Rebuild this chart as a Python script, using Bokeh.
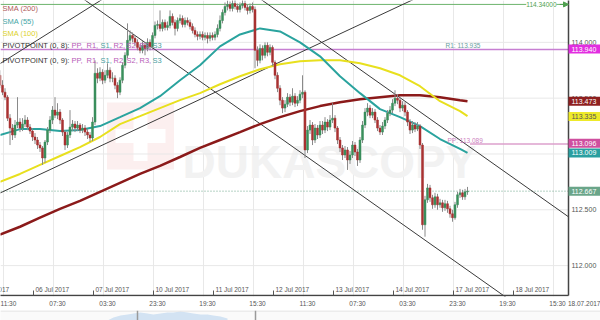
from bokeh.plotting import figure
from bokeh.models import Range1d, FixedTicker, Label, ColumnDataSource, Arrow, NormalHead
from bokeh.layouts import column
from bokeh.embed import file_html
from bokeh.resources import INLINE
from bokeh.core.properties import value

FONT = "Liberation Sans"

# ---------------- data (USD/JPY, hourly candles) ----------------
first_open = 113.705
closes = [113.616, 113.554, 113.509, 113.321, 113.232, 113.170, 113.259, 113.286, 113.232, 113.268,
          113.304, 113.241, 113.205, 113.152, 113.125, 113.080, 113.054, 112.964, 113.107, 113.214,
          113.304, 113.393, 113.348, 113.375, 113.304, 113.196, 113.080, 113.170, 113.241, 113.268,
          113.232, 113.259, 113.214, 113.232, 113.196, 113.170, 113.143, 113.286, 113.723, 113.679,
          113.732, 113.661, 113.705, 113.750, 113.679, 113.679, 113.616, 113.554, 113.661, 113.795,
          113.884, 114.018, 114.062, 114.036, 114.000, 113.955, 113.929, 113.973, 113.946, 114.000,
          113.964, 114.062, 114.152, 114.161, 114.125, 114.179, 114.134, 114.152, 114.232, 114.179,
          114.125, 114.196, 114.214, 114.161, 114.196, 114.179, 114.143, 114.107, 114.071, 114.054,
          114.071, 114.045, 114.062, 114.036, 114.062, 114.045, 114.071, 114.125, 114.196, 114.268,
          114.321, 114.339, 114.304, 114.348, 114.321, 114.295, 114.330, 114.348, 114.312, 114.286,
          114.321, 114.295, 113.929, 113.839, 113.946, 113.884, 113.973, 113.911, 113.955, 113.821,
          113.705, 113.589, 113.482, 113.411, 113.446, 113.509, 113.464, 113.518, 113.455, 113.482,
          113.536, 113.554, 113.036, 113.214, 113.259, 113.125, 113.232, 113.170, 113.259, 113.214,
          113.286, 113.241, 113.304, 113.321, 113.232, 113.125, 113.054, 112.991, 113.036, 112.946,
          112.991, 113.080, 113.018, 112.946, 113.125, 113.259, 113.375, 113.411, 113.348, 113.375,
          113.304, 113.232, 113.196, 113.250, 113.304, 113.366, 113.393, 113.455, 113.500, 113.482,
          113.411, 113.437, 113.375, 113.286, 113.214, 113.259, 113.223, 113.250, 113.080, 112.366,
          112.589, 112.696, 112.607, 112.545, 112.616, 112.545, 112.562, 112.518, 112.554, 112.509,
          112.464, 112.429, 112.545, 112.634, 112.652, 112.616, 112.661, 112.667]
highs = [113.750, 113.661, 113.589, 113.527, 113.357, 113.268, 113.304, 113.509, 113.321, 113.321,
         113.348, 113.330, 113.268, 113.232, 113.187, 113.152, 113.107, 113.071, 113.125, 113.241,
         113.339, 113.429, 113.509, 113.455, 113.402, 113.321, 113.214, 113.196, 113.393, 113.304,
         113.295, 113.295, 113.277, 113.268, 113.259, 113.223, 113.196, 113.330, 113.839, 113.768,
         113.777, 113.759, 113.750, 113.812, 113.777, 113.732, 113.705, 113.643, 113.687, 113.821,
         113.911, 114.170, 114.107, 114.089, 114.062, 114.027, 113.982, 114.009, 114.000, 114.036,
         114.027, 114.089, 114.187, 114.196, 114.286, 114.205, 114.205, 114.187, 114.286, 114.259,
         114.205, 114.223, 114.250, 114.241, 114.223, 114.223, 114.205, 114.170, 114.134, 114.098,
         114.098, 114.098, 114.089, 114.089, 114.089, 114.089, 114.098, 114.161, 114.241, 114.295,
         114.357, 114.375, 114.366, 114.384, 114.384, 114.348, 114.357, 114.393, 114.375, 114.339,
         114.348, 114.357, 114.321, 113.964, 113.982, 113.973, 114.000, 114.000, 113.982, 113.973,
         113.839, 113.732, 113.616, 113.509, 113.482, 113.545, 113.536, 113.589, 113.545, 113.518,
         113.571, 113.705, 113.571, 113.250, 113.304, 113.286, 113.268, 113.259, 113.295, 113.295,
         113.330, 113.312, 113.348, 113.455, 113.348, 113.250, 113.152, 113.080, 113.071, 113.062,
         113.027, 113.116, 113.107, 113.045, 113.152, 113.295, 113.411, 113.455, 113.437, 113.411,
         113.402, 113.330, 113.259, 113.286, 113.330, 113.393, 113.429, 113.491, 113.571, 113.536,
         113.509, 113.473, 113.464, 113.393, 113.312, 113.295, 113.286, 113.286, 113.268, 113.098,
         112.625, 112.732, 112.723, 112.634, 112.652, 112.643, 112.598, 112.589, 112.589, 112.580,
         112.536, 112.500, 112.571, 112.661, 112.687, 112.679, 112.687, 112.705]
lows = [113.589, 113.527, 113.482, 113.295, 113.080, 113.125, 113.143, 113.232, 113.196, 113.205,
        113.241, 113.214, 113.179, 113.116, 113.089, 113.045, 113.018, 112.902, 112.920, 113.080,
        113.187, 113.268, 113.321, 113.312, 113.268, 113.161, 113.036, 113.054, 113.143, 113.205,
        113.196, 113.205, 113.187, 113.187, 113.161, 113.134, 113.107, 113.116, 113.259, 113.634,
        113.652, 113.625, 113.634, 113.679, 113.643, 113.643, 113.580, 113.500, 113.527, 113.634,
        113.768, 113.857, 113.982, 114.000, 113.964, 113.929, 113.902, 113.902, 113.884, 113.920,
        113.929, 113.937, 114.036, 114.116, 114.098, 114.098, 114.107, 114.107, 114.125, 114.152,
        114.062, 114.098, 114.170, 114.134, 114.134, 114.152, 114.116, 114.080, 114.045, 114.018,
        114.027, 114.018, 114.018, 113.991, 114.009, 114.018, 114.018, 114.045, 114.098, 114.170,
        114.241, 114.286, 114.277, 114.277, 114.295, 114.268, 114.268, 114.304, 114.286, 114.250,
        114.259, 114.268, 113.768, 113.786, 113.812, 113.839, 113.857, 113.875, 113.884, 113.786,
        113.670, 113.554, 113.437, 113.366, 113.375, 113.420, 113.429, 113.437, 113.420, 113.429,
        113.455, 113.500, 112.964, 113.009, 113.179, 113.080, 113.098, 113.134, 113.143, 113.179,
        113.187, 113.205, 113.214, 113.277, 113.196, 113.089, 113.018, 112.946, 112.964, 112.857,
        112.911, 112.964, 112.982, 112.893, 112.920, 113.098, 113.232, 113.339, 113.321, 113.321,
        113.277, 113.205, 113.170, 113.170, 113.223, 113.277, 113.339, 113.366, 113.429, 113.446,
        113.375, 113.384, 113.339, 113.250, 113.179, 113.187, 113.196, 113.205, 113.045, 112.321,
        112.259, 112.562, 112.571, 112.509, 112.518, 112.500, 112.518, 112.482, 112.491, 112.473,
        112.429, 112.393, 112.411, 112.518, 112.607, 112.589, 112.589, 112.634]

# moving averages sampled at bar indices
sma_bars = [0, 8, 16, 24, 32, 40, 48, 56, 64, 72, 80, 88, 96, 104, 112, 120, 128, 136, 144, 152,
            160, 168, 176, 184, 187]
sma200 = [112.277, 112.348, 112.429, 112.509, 112.580, 112.661, 112.741, 112.821, 112.893, 112.973,
          113.054, 113.125, 113.196, 113.268, 113.330, 113.384, 113.429, 113.464, 113.491, 113.509,
          113.527, 113.527, 113.509, 113.482, 113.473]
sma100 = [112.750, 112.821, 112.902, 112.982, 113.062, 113.152, 113.268, 113.339, 113.411, 113.482,
          113.545, 113.625, 113.696, 113.759, 113.804, 113.830, 113.839, 113.839, 113.812, 113.768,
          113.705, 113.607, 113.473, 113.384, 113.339]
sma55 = [113.170, 113.223, 113.223, 113.205, 113.214, 113.250, 113.330, 113.411, 113.518, 113.661,
         113.795, 113.964, 114.071, 114.125, 114.098, 114.000, 113.875, 113.696, 113.545, 113.402,
         113.330, 113.250, 113.134, 113.045, 113.009]

# horizontal levels
level_price = 114.340
r1_price = 113.935
pp_price = 113.089
pp_from_bar = 188
last_price = 112.667

# trend lines: two anchor points each (bar index, price)
trend_lines = [((105.0, 114.375), (227.4, 112.437)),
               ((34.2, 114.375), (201.4, 111.732)),
               ((0.2, 112.652), (160.2, 114.330)),
               ((0.2, 113.812), (40.2, 114.375))]

# price boxes on the right scale
box_values = ["113.940", "113.473", "113.335", "113.096", "113.009", "112.667"]
box_colors = ["#e22ee0", "#8e1f1f", "#eeea2a", "#cf4f9f", "#2a9fa0", "#6aa589"]
box_text_colors = ["white", "white", "#555555", "white", "white", "white"]

# axes
price_ticks = [112.0, 112.5, 113.0, 113.5, 114.0]
price_labels = ["112.000", "112.500", "113.000", "113.500", "114.000"]
grid_bars = [1.4, 21.4, 41.4, 61.4, 81.4, 101.4, 121.4, 141.4, 161.4, 181.4, 201.4, 221.4]
time_bars = [3, 23, 43, 63, 83, 103, 123, 143, 163, 183, 203, 223]
time_labels = ["11:30", "07:30", "03:30", "23:30", "19:30", "15:30",
               "11:30", "07:30", "03:30", "23:30", "19:30", "15:30"]
date_bars = [-10.6, 13.4, 37.4, 61.4, 85.4, 109.4, 133.4, 157.4, 181.4, 205.4]
date_labels = ["05 Jul 2017", "06 Jul 2017", "07 Jul 2017", "10 Jul 2017", "11 Jul 2017",
               "12 Jul 2017", "13 Jul 2017", "14 Jul 2017", "17 Jul 2017", "18 Jul 2017"]
corner_bar = 234.0
corner_label = "18.07.2017"
watermark = "DUKASCOPY"

# navigator strip (overview series, top part only visible)
nav_t = [107, 113, 120, 127, 133, 140, 147, 153, 160, 167, 173, 180, 187, 193, 200, 207, 213, 220, 227]
nav_v = [1, 4, 6, 7, 8, 9, 8, 7, 8, 9, 9, 10, 9, 8, 7, 7, 6, 5, 3]
nav_handles = [137, 255]

# ---------------- scales ----------------
BAR_PX = 2.5          # pixels per hourly bar
PX_PER_PRICE = 112.0  # pixels per 1.00 JPY
X0 = 0.2
X_END = X0 + 600 / BAR_PX     # whole width is the frame
AXIS_X = X0 + 568 / BAR_PX    # price scale line
Y1 = 114.375
Y0 = Y1 - 297 / PX_PER_PRICE  # frame is 297 px tall
AXIS_Y = Y1 - 296 / PX_PER_PRICE


def bx(px):
    return X0 + px / BAR_PX


def py(px):
    return Y1 - px / PX_PER_PRICE


n = len(closes)
bars = list(range(n))
opens = [first_open] + closes[:-1]
src = ColumnDataSource(dict(
    x=bars, h=highs, l=lows,
    top=[max(o, c) for o, c in zip(opens, closes)],
    bot=[min(o, c) for o, c in zip(opens, closes)],
    col=["#3b8f5c" if c >= o else "#a83232" for o, c in zip(opens, closes)],
))

p = figure(width=600, height=309, x_range=Range1d(X0, X_END), y_range=Range1d(Y0, Y1),
           output_backend="svg", toolbar_location=None, y_axis_location=None,
           min_border_left=0, min_border_top=0, min_border_right=0, min_border_bottom=12)
p.outline_line_color = None
p.background_fill_color = "white"
p.border_fill_color = "white"

xa = p.xaxis[0]
xa.ticker = FixedTicker(ticks=time_bars + [corner_bar])
overrides = {t: s for t, s in zip(time_bars, time_labels)}
overrides[corner_bar] = corner_label
xa.major_label_overrides = overrides
xa.major_tick_in = 0
xa.major_tick_out = 0
xa.minor_tick_line_color = None
xa.axis_line_color = None
xa.major_label_text_font = FONT
xa.major_label_text_font_size = "6.5px"
xa.major_label_text_color = "#555555"
xa.major_label_standoff = 3

p.xgrid.ticker = FixedTicker(ticks=grid_bars)
p.xgrid.grid_line_color = "#e8e8e8"
p.ygrid.visible = False

# faint watermark (logo square with cross + name)
p.rect(x=[bx(140)], y=[py(136)], width=67, height=67, width_units="screen", height_units="screen",
       fill_color="#fcefef", line_color=None)
p.rect(x=[bx(140)], y=[py(136)], width=14, height=50, width_units="screen", height_units="screen",
       fill_color="white", line_color=None)
p.rect(x=[bx(140)], y=[py(136)], width=50, height=14, width_units="screen", height_units="screen",
       fill_color="white", line_color=None)
p.text(x=[bx(182)], y=[py(162)], text=[watermark], text_font=value(FONT), text_font_size="46px",
       text_font_style="bold", text_color="#f2f2f2", text_baseline="alphabetic")

# horizontal grid and price scale (drawn up to the scale line)
p.segment(x0=[X0] * len(price_ticks), y0=price_ticks, x1=[AXIS_X] * len(price_ticks),
          y1=price_ticks, line_color="#e8e8e8", line_width=1)
p.text(x=[AXIS_X] * len(price_ticks), y=price_ticks, text=price_labels, x_offset=3,
       text_baseline="middle", text_font=value(FONT), text_font_size="7px",
       text_color="#555555")

# horizontal levels
p.line([X0, AXIS_X], [level_price, level_price], line_color="#6cb46c", line_width=1)
p.line([X0, AXIS_X], [r1_price, r1_price], line_color="#c77fd2", line_width=1.5)
p.line([X0, AXIS_X], [last_price, last_price], line_color="#6aa589", line_width=1, line_dash="1 2")
p.line([pp_from_bar, AXIS_X], [pp_price, pp_price], line_color="#dca0cc", line_width=1.5)

# trend lines (clipped at the price scale)
for (xa0, ya0), (xa1, ya1) in trend_lines:
    g = (ya1 - ya0) / (xa1 - xa0)
    b = ya0 - g * xa0
    xs = [X0 - 40, AXIS_X]
    p.line(xs, [g * x + b for x in xs], line_color="#3a3a3a", line_width=1)

# moving averages
p.line(sma_bars, sma200, line_color="#8b1a1a", line_width=2.5)
p.line(sma_bars, sma100, line_color="#e8e01e", line_width=2)
p.line(sma_bars, sma55, line_color="#2aa39e", line_width=2)

# candles
p.segment(x0="x", y0="l", x1="x", y1="h", source=src, line_color="#8a8a8a", line_width=1)
p.vbar(x="x", top="top", bottom="bot", width=0.8, source=src, fill_color="col",
       line_color="col", line_width=0.5)

# axis lines
p.line([AXIS_X, AXIS_X], [AXIS_Y, Y1 + 1], line_color="#444444", line_width=1.5)
p.line([X0 - 1, AXIS_X], [AXIS_Y, AXIS_Y], line_color="#444444", line_width=1.5)

# level texts
p.add_layout(Label(x=AXIS_X, y=level_price, x_offset=-12, text="114.34000", text_align="right",
                   text_baseline="middle", text_font=FONT, text_font_size="6.5px",
                   text_color="#4f9f4f", background_fill_color="white"))
p.add_layout(Arrow(end=NormalHead(size=5, fill_color="#4f9f4f", line_color="#4f9f4f"),
                   x_start=AXIS_X - 3.5, y_start=level_price, x_end=AXIS_X, y_end=level_price,
                   line_color="#4f9f4f", line_width=1))
p.add_layout(Label(x=AXIS_X, y=r1_price, x_offset=-123, y_offset=1, text="R1: " + f"{r1_price:.3f}",
                   text_align="left", text_baseline="bottom", text_font=FONT,
                   text_font_size="6.5px", text_color="#6aa0a0"))
p.add_layout(Label(x=AXIS_X, y=pp_price, x_offset=-121, y_offset=0, text="PP: " + f"{pp_price:.3f}",
                   text_align="left", text_baseline="bottom", text_font=FONT,
                   text_font_size="6.5px", text_color="#cc7fc0"))

# price boxes over the right scale
box_src = ColumnDataSource(dict(y=[float(v) for v in box_values], text=box_values,
                                fill=box_colors, tc=box_text_colors))
p.rect(x=bx(584), y="y", width=32, height=9, width_units="screen", height_units="screen",
       fill_color="fill", line_color=None, source=box_src)
p.text(x=AXIS_X, y="y", text="text", x_offset=3, text_baseline="middle", text_color="tc",
       text_font=value(FONT), text_font_size="7px", source=box_src)

# legend
legend_rows = [("SMA (200)", "#b05a5a", 8), ("SMA (55)", "#45a6a6", 21), ("SMA (100)", "#ddd22a", 33)]
for t, c, dy in legend_rows:
    p.add_layout(Label(x=X0, y=Y1, x_offset=2, y_offset=-dy, text=t, text_color=c,
                       text_baseline="middle", text_font=FONT, text_font_size="7.5px"))
pivot_parts = [("PP,", "#b75bb7", 71), ("R1,", "#b75bb7", 86), ("S1,", "#4aa0a0", 100),
               ("R2,", "#b75bb7", 113), ("S2,", "#b75bb7", 126), ("R3,", "#b75bb7", 139),
               ("S3", "#4aa0a0", 152)]
for k, dy in ((8, 45), (9, 60)):
    p.add_layout(Label(x=X0, y=Y1, x_offset=2, y_offset=-dy, text=f"PIVOTPOINT (0, {k}):",
                       text_color="#333333", text_baseline="middle", text_font=FONT,
                       text_font_size="7.5px"))
    for t, c, dx in pivot_parts:
        p.add_layout(Label(x=X0, y=Y1, x_offset=dx, y_offset=-dy, text=t, text_color=c,
                           text_baseline="middle", text_font=FONT, text_font_size="7.5px"))

# date row above the time axis
p.segment(x0=date_bars, y0=[AXIS_Y] * len(date_bars), x1=date_bars,
          y1=[AXIS_Y + 5 / PX_PER_PRICE] * len(date_bars), line_color="#555555", line_width=1)
p.text(x=date_bars, y=[AXIS_Y] * len(date_bars), text=date_labels, x_offset=2, y_offset=-6,
       text_align="left", text_baseline="middle", text_font=value(FONT), text_font_size="6.5px",
       text_color="#555555")

# ---------------- navigator ----------------
nav = figure(width=600, height=11, x_range=Range1d(0, 600), y_range=Range1d(0, 11),
             output_backend="svg", toolbar_location=None, x_axis_location=None,
             y_axis_location=None, min_border=0)
nav.outline_line_color = None
nav.grid.visible = False
nav.background_fill_color = "#fafafa"
nav.border_fill_color = "#fafafa"
nav.varea(x=nav_t, y1=[0] * len(nav_t), y2=nav_v, fill_color="#d3e3f3")
nav.line([0, 600], [10.5, 10.5], line_color="#dddddd", line_width=1)
for h in nav_handles:
    nav.line([h, h], [0, 11], line_color="#9a9a9a", line_width=1.5)

layout = column(p, nav, spacing=0)
open("out.html", "w").write(file_html(layout, INLINE))
